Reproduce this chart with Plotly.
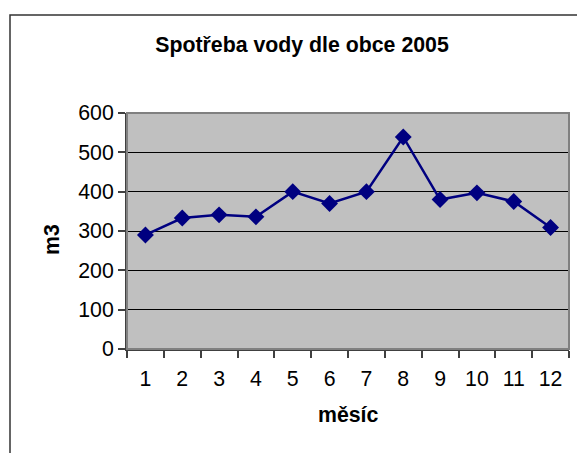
import plotly.graph_objects as go

months = ["1", "2", "3", "4", "5", "6", "7", "8", "9", "10", "11", "12"]
consumption = [290, 333, 341, 336, 400, 370, 400, 539, 380, 397, 375, 309]
y_ticks = [0, 100, 200, 300, 400, 500, 600]

L, R, T, B = 127, 8, 113, 104
W, H = 577, 453
pw, ph = W - L - R, H - T - B

fig = go.Figure()
fig.add_trace(go.Scatter(
    x=months, y=consumption, mode="lines+markers",
    line=dict(color="#000080", width=2.5),
    marker=dict(symbol="diamond", size=13, color="#000080"),
))

font = "Liberation Sans, Arial, sans-serif"
FS = 21.3
fig.update_layout(
    width=W, height=H,
    margin=dict(l=L, r=R, t=T, b=B),
    paper_bgcolor="white", plot_bgcolor="#C0C0C0",
    showlegend=False,
    font=dict(family=font, size=FS, color="black"),
    title=dict(text="<b>Spotřeba vody dle obce 2005</b>", x=302 / W, xanchor="center",
               y=1 - 45 / H, yanchor="middle", font=dict(size=FS, family=font)),
    xaxis=dict(type="category", range=[-0.5, len(months) - 0.5],
               tickson="boundaries", ticks="outside", ticklen=7,
               tickcolor="#404040", tickwidth=1.5, ticklabelstandoff=9,
               showline=True, linecolor="#404040", linewidth=2, mirror=False,
               showgrid=False),
    yaxis=dict(range=[0, 600], tickvals=y_ticks, ticks="outside", ticklen=7,
               tickcolor="#404040", tickwidth=1.5,
               showline=True, linecolor="#404040", linewidth=2,
               showgrid=True, gridcolor="black", gridwidth=1, zeroline=False),
)

fig.add_annotation(text="<b>m3</b>", xref="paper", yref="paper",
                   x=(52 - L) / pw, y=(H - B - 240) / ph, textangle=-90,
                   showarrow=False, xanchor="center", yanchor="middle",
                   font=dict(size=FS))
fig.add_annotation(text="<b>měsíc</b>", xref="paper", yref="paper",
                   x=(348 - L) / pw, y=(H - B - 415) / ph,
                   showarrow=False, xanchor="center", yanchor="middle",
                   font=dict(size=FS))

# plot area border (top and right)
fig.add_shape(type="rect", xref="paper", yref="paper", x0=0, y0=0, x1=1, y1=1,
              line=dict(color="#808080", width=2))
# outer chart border
fig.add_shape(type="rect", xref="paper", yref="paper",
              x0=(10 - L) / pw, y0=-0.6, x1=1.2, y1=(H - B - 15) / ph,
              line=dict(color="#333333", width=1.5), layer="below")

fig.write_html("out.html", config={"displayModeBar": False},
               post_script="document.body.style.margin='0';")
